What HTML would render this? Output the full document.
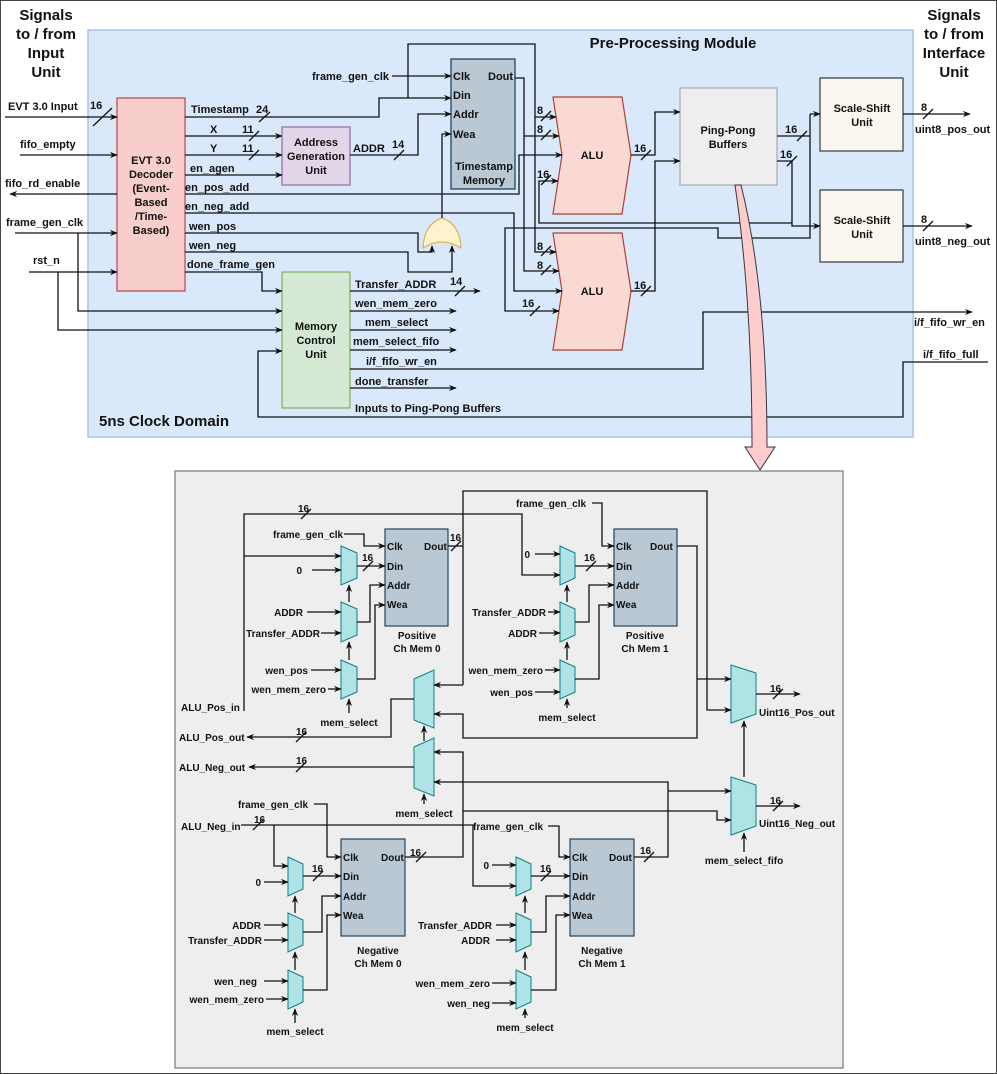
<!DOCTYPE html>
<html><head><meta charset="utf-8"><style>
html,body{margin:0;padding:0;background:#fff}
svg{display:block}
text{font-family:"Liberation Sans",sans-serif;font-weight:bold;fill:#111}
.t{font-size:11px}
.b{font-size:10px}
.h{font-size:15px}
.c{text-anchor:middle}
.r{text-anchor:end}
.l{fill:none;stroke:#111;stroke-width:1.3}
.m{fill:#b0e3e6;stroke:#0e8088;stroke-width:1}
</style></head><body>
<svg width="997" height="1074" viewBox="0 0 997 1074" xmlns="http://www.w3.org/2000/svg">
<defs>
<marker id="a" viewBox="0 0 10 10" refX="9" refY="5" markerWidth="6" markerHeight="6" orient="auto"><path d="M0,1 L10,5 L0,9 L3,5 Z" fill="#111"/></marker>
</defs>
<rect x="0.5" y="0.5" width="996" height="1073" fill="#fff" stroke="#444"/>
<rect x="88" y="30" width="825" height="407" fill="#dae8fc" stroke="#a9c4eb" stroke-width="1.5"/>
<g class="h c">
<text x="46" y="20">Signals</text><text x="46" y="39">to / from</text><text x="46" y="58">Input</text><text x="46" y="77">Unit</text>
<text x="954" y="20">Signals</text><text x="954" y="39">to / from</text><text x="954" y="58">Interface</text><text x="954" y="77">Unit</text>
<text x="673" y="48">Pre-Processing Module</text>
</g>
<text class="h" x="99" y="426">5ns Clock Domain</text>

<!-- blocks -->
<rect x="117" y="98" width="68" height="193" fill="#f8cecc" stroke="#b85450" stroke-width="1.3"/>
<g class="t c"><text x="151" y="164">EVT 3.0</text><text x="151" y="178">Decoder</text><text x="151" y="192">(Event-</text><text x="151" y="206">Based</text><text x="151" y="220">/Time-</text><text x="151" y="234">Based)</text></g>
<rect x="282" y="127" width="68" height="58" fill="#e1d5e7" stroke="#9673a6" stroke-width="1.3"/>
<g class="t c"><text x="316" y="146">Address</text><text x="316" y="160">Generation</text><text x="316" y="174">Unit</text></g>
<rect x="282" y="272" width="68" height="136" fill="#d5e8d4" stroke="#82b366" stroke-width="1.3"/>
<g class="t c"><text x="316" y="330">Memory</text><text x="316" y="344">Control</text><text x="316" y="358">Unit</text></g>
<rect x="451" y="59" width="64" height="130" fill="#bac8d3" stroke="#23445d" stroke-width="1.3"/>
<g class="t"><text x="453" y="80">Clk</text><text x="488" y="80">Dout</text><text x="453" y="99">Din</text><text x="453" y="118">Addr</text><text x="453" y="138">Wea</text></g>
<g class="t c"><text x="484" y="170">Timestamp</text><text x="484" y="184">Memory</text></g>
<path d="M553,97 L622,97 L631,155 L622,214 L553,214 L562,155 Z" fill="#fad9d5" stroke="#ae4132" stroke-width="1.2"/>
<path d="M553,233 L622,233 L631,291 L622,350 L553,350 L562,291 Z" fill="#fad9d5" stroke="#ae4132" stroke-width="1.2"/>
<text class="t c" x="592" y="159">ALU</text><text class="t c" x="592" y="295">ALU</text>
<rect x="680" y="88" width="97" height="97" fill="#eeeeee" stroke="#aaa" stroke-width="1.2"/>
<g class="t c"><text x="728" y="134">Ping-Pong</text><text x="728" y="148">Buffers</text></g>
<rect x="820" y="78" width="83" height="73" fill="#f9f7ed" stroke="#36393d" stroke-width="1.2"/>
<rect x="820" y="190" width="83" height="72" fill="#f9f7ed" stroke="#36393d" stroke-width="1.2"/>
<g class="t c"><text x="862" y="112">Scale-Shift</text><text x="862" y="126">Unit</text><text x="862" y="224">Scale-Shift</text><text x="862" y="238">Unit</text></g>
<path d="M423,248 Q424,224 442,218 Q460,224 461,248 Q442,236 423,248 Z" fill="#fff2cc" stroke="#d6b656" stroke-width="1.2"/>

<!-- top wires -->
<g class="l">
<polyline points="5,117 117,117" marker-end="url(#a)"/>
<polyline points="20,155 117,155" marker-end="url(#a)"/>
<polyline points="117,194 10,194" marker-end="url(#a)"/>
<polyline points="15,233 117,233" marker-end="url(#a)"/>
<polyline points="29,272 117,272" marker-end="url(#a)"/>
<polyline points="78,233 78,311 282,311" marker-end="url(#a)"/>
<polyline points="58,272 58,330 282,330" marker-end="url(#a)"/>
<polyline points="185,117 379,117 379,98 451,98" marker-end="url(#a)"/>
<polyline points="392,76 451,76" marker-end="url(#a)"/>
<polyline points="408,98 408,44 535,44 535,252 556,252" marker-end="url(#a)"/>
<polyline points="535,117 556,117" marker-end="url(#a)"/>
<polyline points="515,78 524,78 524,271 559,271" marker-end="url(#a)"/>
<polyline points="524,136 559,136" marker-end="url(#a)"/>
<polyline points="185,136 282,136" marker-end="url(#a)"/>
<polyline points="185,155 282,155" marker-end="url(#a)"/>
<polyline points="185,175 282,175" marker-end="url(#a)"/>
<polyline points="350,155 418,155 418,114 451,114" marker-end="url(#a)"/>
<polyline points="185,194 519,194 519,155 562,155" marker-end="url(#a)"/>
<polyline points="185,213 514,213 514,291 562,291" marker-end="url(#a)"/>
<polyline points="185,233 418,233 418,252 432,252 432,246" marker-end="url(#a)"/>
<polyline points="185,252 408,252 408,272 452,272 452,246" marker-end="url(#a)"/>
<polyline points="442,218 442,134 451,134" marker-end="url(#a)"/>
<polyline points="185,272 262,272 262,291 282,291" marker-end="url(#a)"/>
<polyline points="350,291 480,291" marker-end="url(#a)"/>
<polyline points="350,311 456,311" marker-end="url(#a)"/>
<polyline points="350,330 456,330" marker-end="url(#a)"/>
<polyline points="350,350 456,350" marker-end="url(#a)"/>
<polyline points="350,388 456,388" marker-end="url(#a)"/>
<polyline points="350,369 703,369 703,312 972,312" marker-end="url(#a)"/>
<polyline points="988,362 903,362 903,417 258,417 258,351 282,351" marker-end="url(#a)"/>
<polyline points="792,223 539,223 539,181 558,181" marker-end="url(#a)"/>
<polyline points="777,161 792,161 792,226 820,226" marker-end="url(#a)"/>
<polyline points="777,136 810,136"/>
<polyline points="810,114 820,114" marker-end="url(#a)"/>
<polyline points="810,114 810,238 718,238 718,228 505,228 505,311 559,311" marker-end="url(#a)"/>
<polyline points="631,155 655,155 655,112 680,112" marker-end="url(#a)"/>
<polyline points="631,291 655,291 655,161 680,161" marker-end="url(#a)"/>
<polyline points="903,114 970,114" marker-end="url(#a)"/>
<polyline points="903,226 972,226" marker-end="url(#a)"/>
<!-- slashes -->
<path d="M93,126 L112,108 M259,122 L270,112 M249,141 L259,131 M249,160 L259,150 M394,160 L404,150 M455,296 L465,286 M541,121 L551,111 M541,140 L551,130 M541,185 L551,175 M541,256 L551,246 M541,275 L551,265 M530,316 L540,306 M641,160 L651,150 M641,296 L651,286 M797,141 L807,131 M787,166 L797,156 M923,119 L933,109 M923,231 L933,221"/>
</g>
<g class="t">
<text x="8" y="110">EVT 3.0 Input</text><text x="90" y="109">16</text>
<text x="20" y="148">fifo_empty</text><text x="5" y="187">fifo_rd_enable</text>
<text x="6" y="226">frame_gen_clk</text><text x="33" y="264">rst_n</text>
<text x="191" y="113">Timestamp</text><text x="256" y="113">24</text>
<text x="210" y="133">X</text><text x="242" y="133">11</text>
<text x="210" y="152">Y</text><text x="242" y="152">11</text>
<text x="190" y="172">en_agen</text><text x="185" y="191">en_pos_add</text><text x="185" y="210">en_neg_add</text>
<text x="189" y="230">wen_pos</text><text x="189" y="249">wen_neg</text><text x="187" y="268">done_frame_gen</text>
<text x="353" y="152">ADDR</text><text x="392" y="148">14</text>
<text x="312" y="80">frame_gen_clk</text>
<text x="355" y="288">Transfer_ADDR</text><text x="450" y="285">14</text>
<text x="355" y="307">wen_mem_zero</text><text x="365" y="326">mem_select</text>
<text x="353" y="345">mem_select_fifo</text><text x="366" y="365">i/f_fifo_wr_en</text>
<text x="355" y="385">done_transfer</text><text x="355" y="412">Inputs to Ping-Pong Buffers</text>
<text x="537" y="114">8</text><text x="537" y="133">8</text><text x="537" y="178">16</text>
<text x="537" y="250">8</text><text x="537" y="269">8</text><text x="522" y="307">16</text>
<text x="634" y="152">16</text><text x="634" y="289">16</text>
<text x="785" y="133">16</text><text x="780" y="158">16</text>
<text x="921" y="111">8</text><text x="921" y="223">8</text>
<text x="915" y="133">uint8_pos_out</text><text x="915" y="245">uint8_neg_out</text>
<text x="914" y="326">i/f_fifo_wr_en</text><text x="923" y="358">i/f_fifo_full</text>
</g>

<!-- pink arrow -->
<path d="M735,185 Q752,300 752,447 L745,447 L760,470 L775,447 L767,447 Q767,290 741,185 Z" fill="#ffcccc" stroke="#36393d" stroke-width="1"/>

<!-- bottom panel -->
<rect x="175" y="471" width="668" height="597" fill="#eeeeee" stroke="#777" stroke-width="1.2"/>
<g fill="#bac8d3" stroke="#23445d" stroke-width="1.2">
<rect x="385" y="529" width="63" height="97"/><rect x="614" y="529" width="63" height="97"/>
<rect x="341" y="839" width="64" height="97"/><rect x="570" y="839" width="64" height="97"/>
</g>
<g class="b">
<text x="387" y="550">Clk</text><text x="424" y="550">Dout</text><text x="387" y="570">Din</text><text x="387" y="589">Addr</text><text x="387" y="608">Wea</text>
<text x="616" y="550">Clk</text><text x="650" y="550">Dout</text><text x="616" y="570">Din</text><text x="616" y="589">Addr</text><text x="616" y="608">Wea</text>
<text x="343" y="861">Clk</text><text x="381" y="861">Dout</text><text x="343" y="880">Din</text><text x="343" y="900">Addr</text><text x="343" y="919">Wea</text>
<text x="572" y="861">Clk</text><text x="609" y="861">Dout</text><text x="572" y="880">Din</text><text x="572" y="900">Addr</text><text x="572" y="919">Wea</text>
</g>
<g class="b c">
<text x="417" y="639">Positive</text><text x="417" y="652">Ch Mem 0</text>
<text x="645" y="639">Positive</text><text x="645" y="652">Ch Mem 1</text>
<text x="378" y="954">Negative</text><text x="378" y="967">Ch Mem 0</text>
<text x="602" y="954">Negative</text><text x="602" y="967">Ch Mem 1</text>
</g>
<!-- small muxes -->
<g class="m">
<path d="M341,546 L357,553 L357,578 L341,585 Z"/><path d="M341,602 L357,609 L357,635 L341,642 Z"/><path d="M341,660 L357,667 L357,692 L341,699 Z"/>
<path d="M560,546 L575,553 L575,578 L560,585 Z"/><path d="M560,602 L575,609 L575,635 L560,642 Z"/><path d="M560,660 L575,667 L575,692 L560,699 Z"/>
<path d="M288,857 L303,864 L303,889 L288,896 Z"/><path d="M288,913 L303,920 L303,945 L288,952 Z"/><path d="M288,970 L303,977 L303,1002 L288,1009 Z"/>
<path d="M516,857 L531,864 L531,889 L516,896 Z"/><path d="M516,913 L531,920 L531,945 L516,952 Z"/><path d="M516,970 L531,977 L531,1002 L516,1009 Z"/>
<path d="M434,670 L434,728 L414,720 L414,679 Z"/><path d="M434,738 L434,796 L414,788 L414,747 Z"/>
<path d="M731,665 L756,673 L756,714 L731,723 Z"/><path d="M731,777 L756,785 L756,826 L731,835 Z"/>
</g>
<g class="l">
<!-- pos mem 0 -->
<polyline points="244,711 244,514 522,514 522,575 560,575" marker-end="url(#a)"/>
<polyline points="244,556 341,556" marker-end="url(#a)"/>
<polyline points="312,570 341,570" marker-end="url(#a)"/>
<polyline points="357,566 385,566" marker-end="url(#a)"/>
<polyline points="344,534 364,534 364,546 385,546" marker-end="url(#a)"/>
<polyline points="307,612 341,612" marker-end="url(#a)"/>
<polyline points="321,633 341,633" marker-end="url(#a)"/>
<polyline points="357,622 370,622 370,585 385,585" marker-end="url(#a)"/>
<polyline points="311,670 341,670" marker-end="url(#a)"/>
<polyline points="328,689 341,689" marker-end="url(#a)"/>
<polyline points="357,679 375,679 375,605 385,605" marker-end="url(#a)"/>
<polyline points="349,713 349,699" marker-end="url(#a)"/>
<polyline points="349,660 349,642" marker-end="url(#a)"/>
<polyline points="349,602 349,585" marker-end="url(#a)"/>
<polyline points="448,546 463,546"/>
<polyline points="463,685 463,491 707,491 707,710 731,710" marker-end="url(#a)"/>
<polyline points="463,685 434,685" marker-end="url(#a)"/>
<!-- pos mem 1 -->
<polyline points="535,554 560,554" marker-end="url(#a)"/>
<polyline points="575,566 614,566" marker-end="url(#a)"/>
<polyline points="592,503 602,503 602,546 614,546" marker-end="url(#a)"/>
<polyline points="548,612 560,612" marker-end="url(#a)"/>
<polyline points="539,633 560,633" marker-end="url(#a)"/>
<polyline points="575,622 589,622 589,585 614,585" marker-end="url(#a)"/>
<polyline points="545,670 560,670" marker-end="url(#a)"/>
<polyline points="535,692 560,692" marker-end="url(#a)"/>
<polyline points="575,679 599,679 599,605 614,605" marker-end="url(#a)"/>
<polyline points="567,708 567,699" marker-end="url(#a)"/>
<polyline points="567,660 567,642" marker-end="url(#a)"/>
<polyline points="567,602 567,585" marker-end="url(#a)"/>
<polyline points="677,546 697,546 697,738 463,738 463,714 434,714" marker-end="url(#a)"/>
<polyline points="697,679 731,679" marker-end="url(#a)"/>
<!-- big muxes -->
<polyline points="414,699 391,699 391,737 247,737" marker-end="url(#a)"/>
<polyline points="414,767 249,767" marker-end="url(#a)"/>
<polyline points="424,741 424,726" marker-end="url(#a)"/>
<polyline points="424,804 424,794" marker-end="url(#a)"/>
<polyline points="405,857 463,857 463,752 434,752" marker-end="url(#a)"/>
<polyline points="463,811 717,811 717,820 731,820" marker-end="url(#a)"/>
<polyline points="634,857 668,857 668,782 434,782" marker-end="url(#a)"/>
<polyline points="668,791 731,791" marker-end="url(#a)"/>
<polyline points="756,694 800,694" marker-end="url(#a)"/>
<polyline points="756,806 800,806" marker-end="url(#a)"/>
<polyline points="744,777 744,721" marker-end="url(#a)"/>
<polyline points="744,852 744,833" marker-end="url(#a)"/>
<!-- neg mem 0 -->
<polyline points="241,825 473,825 473,886 516,886" marker-end="url(#a)"/>
<polyline points="274,825 274,866 288,866" marker-end="url(#a)"/>
<polyline points="264,882 288,882" marker-end="url(#a)"/>
<polyline points="303,876 341,876" marker-end="url(#a)"/>
<polyline points="314,804 327,804 327,857 341,857" marker-end="url(#a)"/>
<polyline points="264,925 288,925" marker-end="url(#a)"/>
<polyline points="264,940 288,940" marker-end="url(#a)"/>
<polyline points="303,932 322,932 322,896 341,896" marker-end="url(#a)"/>
<polyline points="264,981 288,981" marker-end="url(#a)"/>
<polyline points="266,999 288,999" marker-end="url(#a)"/>
<polyline points="303,990 327,990 327,915 341,915" marker-end="url(#a)"/>
<polyline points="295,1023 295,1009" marker-end="url(#a)"/>
<polyline points="295,970 295,952" marker-end="url(#a)"/>
<polyline points="295,913 295,896" marker-end="url(#a)"/>
<!-- neg mem 1 -->
<polyline points="492,865 516,865" marker-end="url(#a)"/>
<polyline points="531,876 570,876" marker-end="url(#a)"/>
<polyline points="548,826 559,826 559,857 570,857" marker-end="url(#a)"/>
<polyline points="496,925 516,925" marker-end="url(#a)"/>
<polyline points="496,940 516,940" marker-end="url(#a)"/>
<polyline points="531,932 546,932 546,896 570,896" marker-end="url(#a)"/>
<polyline points="492,983 516,983" marker-end="url(#a)"/>
<polyline points="492,1003 516,1003" marker-end="url(#a)"/>
<polyline points="531,990 556,990 556,915 570,915" marker-end="url(#a)"/>
<polyline points="525,1018 525,1009" marker-end="url(#a)"/>
<polyline points="525,970 525,952" marker-end="url(#a)"/>
<polyline points="525,913 525,896" marker-end="url(#a)"/>
<!-- slashes -->
<path d="M301,519 L311,509 M451,551 L461,541 M363,571 L373,561 M586,571 L596,561 M296,742 L306,732 M296,772 L306,762 M773,699 L783,689 M773,811 L783,801 M253,830 L263,820 M313,881 L323,871 M416,862 L426,852 M541,881 L551,871 M644,862 L654,852"/>
</g>
<g class="b">
<text x="298" y="512">16</text><text x="450" y="541">16</text><text x="362" y="561">16</text><text x="584" y="561">16</text>
<text x="273" y="538">frame_gen_clk</text><text x="302" y="574" class="r">0</text>
<text x="303" y="616" class="r">ADDR</text><text x="320" y="637" class="r">Transfer_ADDR</text>
<text x="308" y="674" class="r">wen_pos</text><text x="326" y="693" class="r">wen_mem_zero</text>
<text x="349" y="726" class="c">mem_select</text>
<text x="181" y="711">ALU_Pos_in</text>
<text x="516" y="507">frame_gen_clk</text><text x="530" y="558" class="r">0</text>
<text x="546" y="616" class="r">Transfer_ADDR</text><text x="537" y="637" class="r">ADDR</text>
<text x="543" y="674" class="r">wen_mem_zero</text><text x="533" y="696" class="r">wen_pos</text>
<text x="567" y="721" class="c">mem_select</text>
<text x="179" y="741">ALU_Pos_out</text><text x="296" y="735">16</text>
<text x="179" y="771">ALU_Neg_out</text><text x="296" y="764">16</text>
<text x="424" y="817" class="c">mem_select</text>
<text x="770" y="692">16</text><text x="759" y="716">Uint16_Pos_out</text>
<text x="770" y="804">16</text><text x="759" y="827">Uint16_Neg_out</text>
<text x="744" y="864" class="c">mem_select_fifo</text>
<text x="238" y="808">frame_gen_clk</text>
<text x="181" y="830">ALU_Neg_in</text><text x="254" y="823">16</text>
<text x="261" y="886" class="r">0</text><text x="312" y="872">16</text>
<text x="261" y="929" class="r">ADDR</text><text x="262" y="944" class="r">Transfer_ADDR</text>
<text x="257" y="985" class="r">wen_neg</text><text x="264" y="1003" class="r">wen_mem_zero</text>
<text x="295" y="1035" class="c">mem_select</text>
<text x="410" y="856">16</text>
<text x="473" y="830">frame_gen_clk</text>
<text x="489" y="869" class="r">0</text><text x="540" y="872">16</text>
<text x="492" y="929" class="r">Transfer_ADDR</text><text x="490" y="944" class="r">ADDR</text>
<text x="490" y="987" class="r">wen_mem_zero</text><text x="490" y="1007" class="r">wen_neg</text>
<text x="525" y="1031" class="c">mem_select</text>
<text x="640" y="854">16</text>
</g>
</svg>
</body></html>
